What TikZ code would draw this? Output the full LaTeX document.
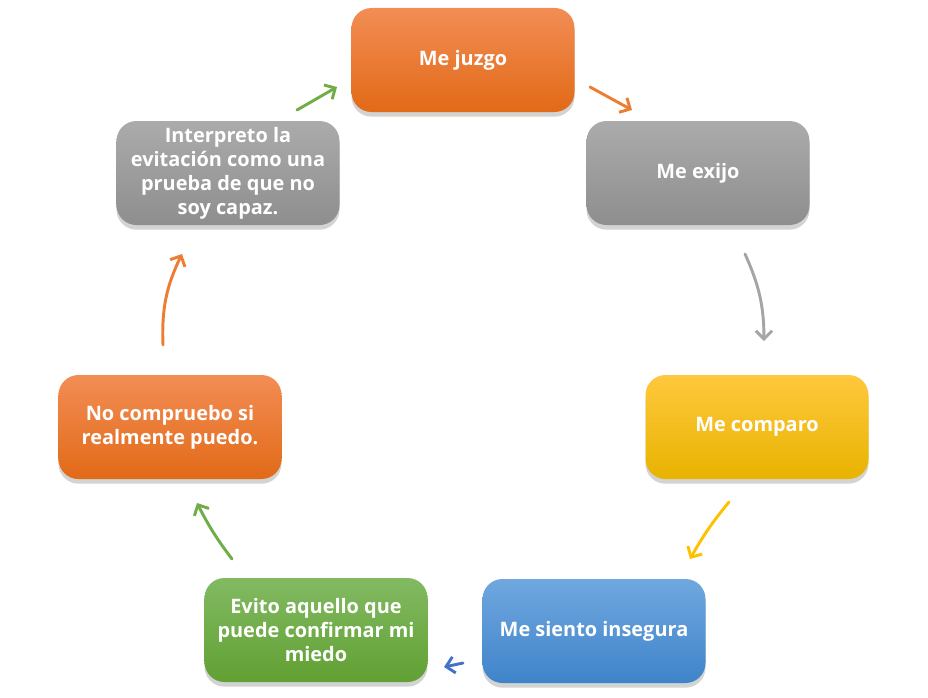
\documentclass[tikz,border=0pt]{standalone}
\usepackage{fontspec}
\setmainfont{Open Sans}
\usepackage{tikz}
\usetikzlibrary{arrows.meta, shadows}

\definecolor{naranja}{HTML}{ED7D31}
\definecolor{naranjaclaro}{HTML}{F28D55}
\definecolor{naranjaoscuro}{HTML}{E26A17}
\definecolor{gris}{HTML}{A5A5A5}
\definecolor{grisclaro}{HTML}{ABABAB}
\definecolor{grisoscuro}{HTML}{8E8E8E}
\definecolor{amarillo}{HTML}{FFC000}
\definecolor{amarilloclaro}{HTML}{FFC83E}
\definecolor{amarillooscuro}{HTML}{E8B300}
\definecolor{azul}{HTML}{4472C4}
\definecolor{azulclaro}{HTML}{70A7DF}
\definecolor{azuloscuro}{HTML}{3F84CA}
\definecolor{verde}{HTML}{70AD47}
\definecolor{verdeclaro}{HTML}{82BA62}
\definecolor{verdeoscuro}{HTML}{61A033}

\begin{document}
\begin{tikzpicture}[x=0.03cm, y=-0.03cm,
	caja/.style={rounded corners=0.6cm, minimum width=6.69cm, minimum height=3.12cm,
		align=center, text=white, font=\bfseries\fontsize{17}{20.5}\selectfont,
		drop shadow={shadow xshift=0pt, shadow yshift=-4pt, opacity=0.35}},
	flecha/.style={line width=2.5pt, line cap=round, -{Straight Barb[length=7pt, width=14pt]}}]
			\useasboundingbox (0, 0) rectangle (928, 697);
			% cajas del ciclo
			\node[caja, top color=naranjaclaro, bottom color=naranjaoscuro] (juzgo) at (463, 60) {Me juzgo};
			\node[caja, top color=grisclaro, bottom color=grisoscuro] (exijo) at (698, 173) {Me exijo};
			\node[caja, top color=amarilloclaro, bottom color=amarillooscuro] (comparo) at (757, 427) {Me comparo};
			\node[caja, top color=azulclaro, bottom color=azuloscuro] (insegura) at (594, 631) {Me siento insegura};
			\node[caja, top color=verdeclaro, bottom color=verdeoscuro] (evito) at (316, 630) {Evito aquello que\\puede confirmar mi\\miedo};
			\node[caja, top color=naranjaclaro, bottom color=naranjaoscuro] (compruebo) at (170, 427) {No compruebo si\\realmente puedo.};
			\node[caja, top color=grisclaro, bottom color=grisoscuro] (interpreto) at (228, 173) {Interpreto la\\evitación como una\\prueba de que no\\soy capaz.};
			% extremos de las flechas
			\coordinate (a1) at (297, 110);
			\coordinate (b1) at (337, 87);
			\coordinate (a2) at (590, 87);
			\coordinate (b2) at (632, 110);
			\coordinate (a3) at (745, 254);
			\coordinate (b3) at (764, 341);
			\coordinate (a4) at (729, 502);
			\coordinate (b4) at (690, 559);
			\coordinate (a5) at (463, 663);
			\coordinate (b5) at (444, 667);
			\coordinate (a6) at (232, 559);
			\coordinate (b6) at (197, 503);
			\coordinate (a7) at (163, 345);
			\coordinate (b7) at (182, 254);
			% flechas
			\draw[flecha, verde] (a1) -- (b1);
			\draw[flecha, naranja] (a2) -- (b2);
			\draw[flecha, gris] (a3) to[bend left=12] (b3);
			\draw[flecha, amarillo] (a4) to[bend right=5] (b4);
			\draw[flecha, azul] (a5) -- (b5);
			\draw[flecha, verde] (a6) to[bend left=5] (b6);
			\draw[flecha, naranja] (a7) to[bend left=14] (b7);
		\end{tikzpicture}
\end{document}
